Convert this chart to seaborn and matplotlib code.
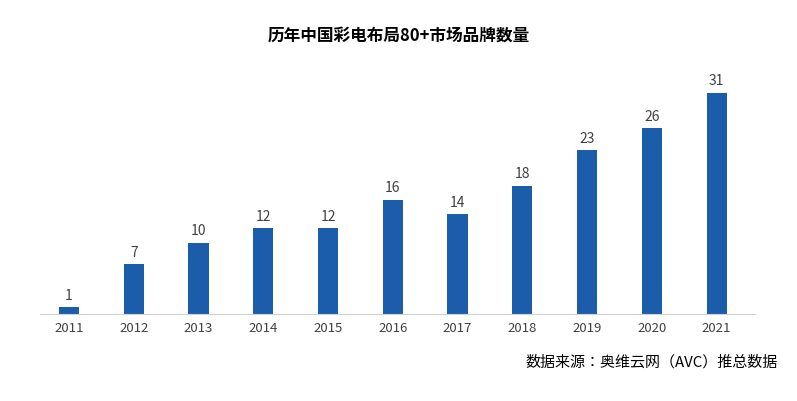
import matplotlib
matplotlib.use("Agg")
import matplotlib.pyplot as plt
from matplotlib import font_manager as fm
import seaborn as sns
import pandas as pd

years = ["2011","2012","2013","2014","2015","2016","2017","2018","2019","2020","2021"]
counts = [1,7,10,12,12,16,14,18,23,26,31]

names = {f.name for f in fm.fontManager.ttflist}
cjk = "Noto Sans CJK SC"
if cjk not in names:
    cands = sorted(n for n in names if "Sans CJK" in n)
    cjk = cands[0] if cands else cjk
plt.rcParams["font.family"] = [cjk, "DejaVu Sans"]
plt.rcParams["axes.unicode_minus"] = False

df = pd.DataFrame({"year": years, "count": counts})
fig = plt.figure(figsize=(7.97, 4.01), dpi=100)
ax = fig.add_axes([0.05, 0.217, 0.897, 0.623])
sns.barplot(data=df, x="year", y="count", color="#1c5dab", width=0.31, ax=ax, saturation=1)
ax.set_xlim(-0.45, 10.59)
ax.set_ylim(0, 35)
for i, v in enumerate(counts):
    ax.text(i, v + 0.6, str(v), ha="center", va="bottom", fontsize=10, color="#404040")
ax.set_xlabel(""); ax.set_ylabel("")
ax.set_yticks([])
for s in ["top", "right", "left"]:
    ax.spines[s].set_visible(False)
ax.spines["bottom"].set_color("#d0d0d0")
ax.tick_params(axis="x", length=0, labelsize=9.5, colors="#404040", pad=6)
fig.text(0.5, 0.912, "历年中国彩电布局80+市场品牌数量", ha="center", va="center", fontsize=12, fontweight="bold", color="#000000")
fig.text(0.976, 0.097, "数据来源：奥维云网（AVC）推总数据", ha="right", va="center", fontsize=10.8, color="#000000")
fig.savefig("out.png", dpi=100)
